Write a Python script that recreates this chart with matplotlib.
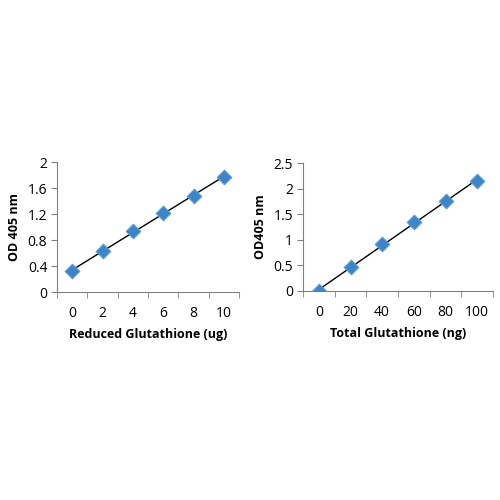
import matplotlib.pyplot as plt
import numpy as np

# standard curves
reduced_ug = [0, 2, 4, 6, 8, 10]
reduced_od = [0.32, 0.63, 0.94, 1.21, 1.48, 1.77]
total_ng = [0, 20, 40, 60, 80, 100]
total_od = [0.0, 0.46, 0.91, 1.35, 1.75, 2.15]

plt.rcParams['font.family'] = ['Open Sans', 'DejaVu Sans']

fig = plt.figure(figsize=(5, 5), dpi=100)
ax1 = fig.add_axes([0.114, 0.416, 0.364, 0.26])
ax2 = fig.add_axes([0.606, 0.418, 0.380, 0.256])


def std_curve(ax, xs, ys, ymax, ystep, ylabel, xlabel, ylfmt):
    pos = np.arange(len(xs))
    # linear trendline (excel style)
    k, b = np.polyfit(xs, ys, 1)
    ax.plot(pos, k * np.array(xs) + b, color='black', lw=1, zorder=2)
    ax.scatter(pos, ys, marker='D', s=55, color='#3d85c6',
               edgecolor='#5b9bd5', linewidth=0.8, zorder=3)
    ax.set_xlim(-0.5, len(xs) - 0.5)
    ax.set_ylim(0, ymax)
    ax.set_xticks(pos)
    ax.set_xticklabels([str(x) for x in xs])
    ax.set_xticks(np.arange(-0.5, len(xs)), minor=True)
    ax.tick_params(axis='x', which='major', length=0, pad=10, labelsize=10)
    ax.tick_params(axis='x', which='minor', length=4, color='#808080', direction='out')
    ax.set_yticks(np.arange(0, ymax + 1e-9, ystep))
    ax.set_yticklabels([ylfmt(v) for v in np.arange(0, ymax + 1e-9, ystep)])
    ax.tick_params(axis='y', length=4, color='#808080', labelsize=10, pad=3)
    for s in ['top', 'right']:
        ax.spines[s].set_visible(False)
    for s in ['left', 'bottom']:
        ax.spines[s].set_color('#808080')
    ax.set_xlabel(xlabel, fontsize=9, fontweight='bold', labelpad=5)
    ax.set_ylabel(ylabel, fontsize=9, fontweight='bold', labelpad=5)


def fmt(v):
    return ('%g' % round(v, 2))


std_curve(ax1, reduced_ug, reduced_od, 2, 0.4, 'OD 405 nm', 'Reduced Glutathione (ug)', fmt)
std_curve(ax2, total_ng, total_od, 2.5, 0.5, 'OD405 nm', 'Total Glutathione (ng)', fmt)

plt.savefig('out.png', dpi=100)
